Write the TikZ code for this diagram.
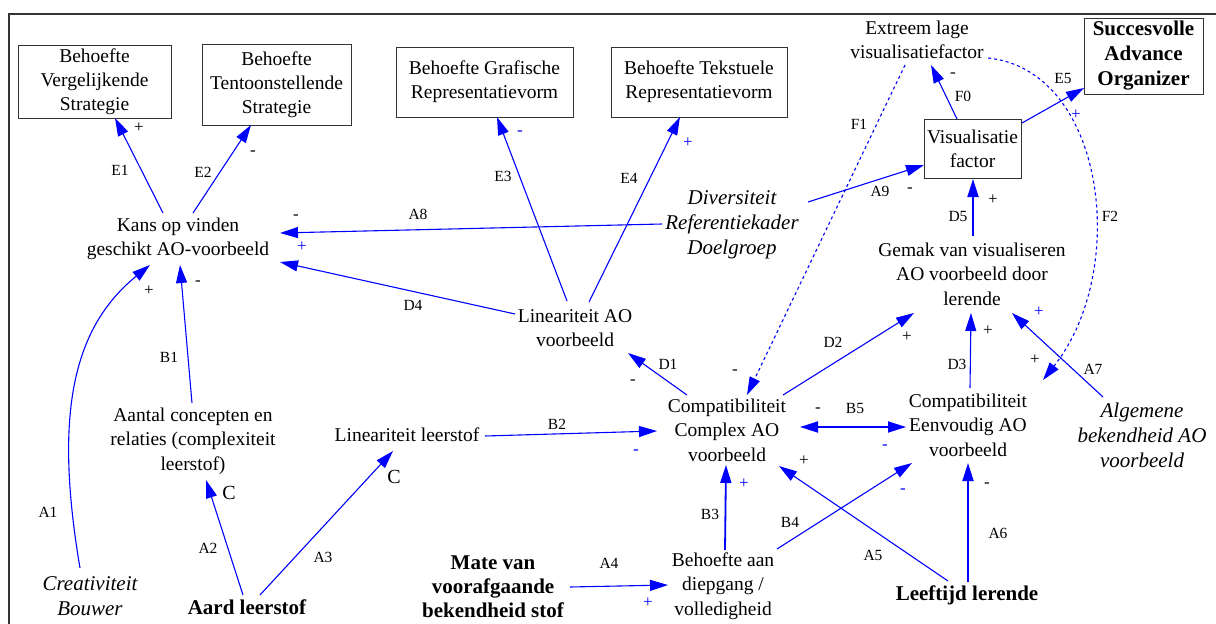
\documentclass[tikz,border=0pt]{standalone}
\usepackage{fontspec}
\setmainfont{Liberation Serif}
\usetikzlibrary{arrows.meta}
\begin{document}
\begin{tikzpicture}[x=1pt,y=-1pt,
  box/.style={draw=black!80, line width=1pt, align=center, inner sep=0pt, font=\fontsize{19.5}{24}\selectfont},
  txt/.style={align=center, inner sep=1pt, font=\fontsize{19.5}{24.5}\selectfont},
  itxt/.style={align=center, inner sep=1pt, font=\fontsize{21}{25}\selectfont\itshape},
  btxt/.style={align=center, inner sep=1pt, font=\fontsize{21}{24}\selectfont\bfseries},
  lbl/.style={inner sep=0pt, font=\fontsize{15.5}{18}\selectfont},
  sgn/.style={inner sep=0pt, font=\fontsize{17}{18}\selectfont},
  bsgn/.style={sgn, text=blue},
  csgn/.style={inner sep=0pt, font=\fontsize{20}{20}\selectfont},
  conn/.style={draw=blue, line width=1.1pt, -{Triangle[length=18pt,width=11pt]}},
  thickconn/.style={conn, line width=1.8pt},
  dconn/.style={conn, dash pattern=on 3pt off 3pt}
]
\useasboundingbox (0,0) rectangle (1216,624);
\fill[white] (0,0) rectangle (1216,624);
\draw[line width=2pt, black!80] (9,624) -- (9,14) -- (1216,14);

% boxes
\node[box, minimum width=153, minimum height=73] (v1) at (94.5,81.5) {Behoefte\\Vergelijkende\\Strategie};
\node[box, minimum width=149, minimum height=81] (v2) at (276.5,84.5) {Behoefte\\Tentoonstellende\\Strategie};
\node[box, minimum width=177, minimum height=70] (v3) at (484.5,82) {Behoefte Grafische\\Representatievorm};
\node[box, minimum width=176, minimum height=70] (v4) at (699,82) {Behoefte Tekstuele\\Representatievorm};
\node[box, minimum width=119, minimum height=76, font=\fontsize{21}{25}\selectfont\bfseries] (succ) at (1143.5,56) {Succesvolle\\Advance\\Organizer};
\node[box, minimum width=97, minimum height=59] (vis) at (972.5,148.5) {Visualisatie\\factor};

% text nodes
\node[txt] (ext) at (917,40) {Extreem lage\\visualisatiefactor};
\node[txt] (kans) at (178,239) {Kans op vinden\\geschikt AO-voorbeeld};
\node[itxt] (div) at (732,225) {Diversiteit\\Referentiekader\\Doelgroep};
\node[txt] (lao) at (575,328) {Lineariteit AO\\voorbeeld};
\node[txt] (gemak) at (972,274) {Gemak van visualiseren\\AO voorbeeld door\\lerende};
\node[txt] (cc) at (727,430) {Compatibiliteit\\Complex AO\\voorbeeld};
\node[txt] (ce) at (968,425) {Compatibiliteit\\Eenvoudig AO\\voorbeeld};
\node[itxt] (alg) at (1142,435) {Algemene\\bekendheid AO\\voorbeeld};
\node[txt] (aant) at (193,441) {Aantal concepten en\\relaties (complexiteit\\leerstof)};
\node[txt] (ll) at (407,435) {Lineariteit leerstof};
\node[itxt] (creat) at (90,596) {Creativiteit\\Bouwer};
\node[btxt] (aard) at (247,607) {Aard leerstof};
\node[btxt] (mate) at (493,587) {Mate van\\voorafgaande\\bekendheid stof};
\node[txt] (bdiep) at (723,586) {Behoefte aan\\diepgang /\\volledigheid};
\node[btxt] (leeft) at (967,595) {Leeftijd lerende};

% connectors
\draw[conn] ([shift={(-15,-26)}]kans.center) -- ([shift={(20.5,36.5)}]v1.center);
\draw[conn] ([shift={(15,-26)}]kans.center) -- ([shift={(-25.5,40.5)}]v2.center);
\draw[conn] ([shift={(-8,-27)}]lao.center) -- ([shift={(12.5,35)}]v3.center);
\draw[conn] ([shift={(14,-26)}]lao.center) -- ([shift={(-19,35)}]v4.center);
\draw[conn] ([shift={(-70,-1)}]div.center) -- ([shift={(102,-6)}]kans.center);
\draw[conn] ([shift={(-60,-14)}]lao.center) -- ([shift={(102,23)}]kans.center);
\draw[conn] ([shift={(76,-23)}]div.center) -- ([shift={(-48.5,16.5)}]vis.center);
\draw[conn] ([shift={(49.5,-25.5)}]vis.center) -- ([shift={(-59.5,32)}]succ.center);
\draw[conn] ([shift={(-15.5,-29.5)}]vis.center) -- ([shift={(14,25)}]ext.center);
\draw[thickconn] ([shift={(1,-38)}]gemak.center) -- ([shift={(0.5,30.5)}]vis.center);
\draw[dconn] ([shift={(-12,25)}]ext.center) -- ([shift={(20,-35)}]cc.center);
\draw[dconn] ([shift={(71,18)}]ext.center) .. controls (1105,70) and (1130,270) .. ([shift={(75,-45)}]ce.center);
\draw[conn] ([shift={(-40,-35)}]cc.center) -- ([shift={(53,25)}]lao.center);
\draw[conn] ([shift={(56,-35)}]cc.center) -- ([shift={(-58,39)}]gemak.center);
\draw[conn] ([shift={(2,-37)}]ce.center) -- ([shift={(-1,39)}]gemak.center);
\draw[conn] ([shift={(-39,-38)}]alg.center) -- ([shift={(40,39)}]gemak.center);
\draw[thickconn, {Triangle[length=18pt,width=11pt]}-{Triangle[length=18pt,width=11pt]}] ([shift={(73,-3)}]cc.center) -- ([shift={(-62,2)}]ce.center);
\draw[conn] ([shift={(78,1)}]ll.center) -- ([shift={(-70,1)}]cc.center);
\draw[thickconn] ([shift={(2,-36)}]bdiep.center) -- ([shift={(-1,35)}]cc.center);
\draw[conn] ([shift={(54,-37)}]bdiep.center) -- ([shift={(-56,38)}]ce.center);
\draw[conn] ([shift={(-19,-14)}]leeft.center) -- ([shift={(52,36)}]cc.center);
\draw[thickconn] ([shift={(1,-13)}]leeft.center) -- ([shift={(0,38)}]ce.center);
\draw[conn] ([shift={(77,0)}]mate.center) -- ([shift={(-55,-1)}]bdiep.center);
\draw[conn] ([shift={(13,-12)}]aard.center) -- ([shift={(-14,16)}]ll.center);
\draw[conn] ([shift={(-4,-12)}]aard.center) -- ([shift={(13,39)}]aant.center);
\draw[conn] ([shift={(-1,-38)}]aant.center) -- ([shift={(2,26)}]kans.center);
\draw[conn] ([shift={(-10,-28)}]creat.center) .. controls (55,420) and (70,330) .. ([shift={(-28,26)}]kans.center);

% labels
\node[lbl] (lE1) at (120,170) {E1};
\node[lbl] (lE2) at (203,172) {E2};
\node[lbl] (lE3) at (503,176) {E3};
\node[lbl] (lE4) at (629,178) {E4};
\node[lbl] (lA8) at (418,214) {A8};
\node[lbl] (lD4) at (413,305) {D4};
\node[lbl] (lA9) at (880,191) {A9};
\node[lbl] (lE5) at (1063,78) {E5};
\node[lbl] (lF0) at (963,96) {F0};
\node[lbl] (lD5) at (958,216) {D5};
\node[lbl] (lF1) at (859,124) {F1};
\node[lbl] (lF2) at (1110,216) {F2};
\node[lbl] (lD1) at (668,364) {D1};
\node[lbl] (lD2) at (833,342) {D2};
\node[lbl] (lD3) at (957,364) {D3};
\node[lbl] (lA7) at (1093,369) {A7};
\node[lbl] (lB5) at (855,408) {B5};
\node[lbl] (lB2) at (557,424) {B2};
\node[lbl] (lB3) at (710,514) {B3};
\node[lbl] (lB4) at (790,522) {B4};
\node[lbl] (lA5) at (873,555) {A5};
\node[lbl] (lA6) at (998,533) {A6};
\node[lbl] (lA4) at (609,563) {A4};
\node[lbl] (lA3) at (323,557) {A3};
\node[lbl] (lA2) at (208,548) {A2};
\node[lbl] (lB1) at (169,357) {B1};
\node[lbl] (lA1) at (48,512) {A1};

% signs
\node[sgn] (s1) at (139,128) {+};
\node[sgn] (s2) at (253,153) {-};
\node[bsgn] (s3) at (520,133) {-};
\node[bsgn] (s4) at (688,143) {+};
\node[sgn] (s5) at (296,217) {-};
\node[bsgn] (s6) at (302,247) {+};
\node[sgn] (s7) at (149,291) {+};
\node[sgn] (s8) at (198,283) {-};
\node[sgn] (s9) at (910,190) {-};
\node[sgn] (s10) at (953,75) {-};
\node[bsgn] (s11) at (1076,115) {+};
\node[sgn] (s12) at (993,200) {+};
\node[sgn] (s13) at (633,382) {-};
\node[sgn] (s14) at (735,372) {-};
\node[sgn] (s15) at (907,337) {+};
\node[sgn] (s16) at (988,331) {+};
\node[bsgn] (s17) at (1039,312) {+};
\node[sgn] (s18) at (1035,360) {+};
\node[sgn] (s19) at (818,410) {-};
\node[bsgn] (s20) at (885,447) {-};
\node[bsgn] (s21) at (636,452) {-};
\node[bsgn] (s22) at (744,484) {+};
\node[bsgn] (s23) at (903,491) {-};
\node[sgn] (s24) at (804,461) {+};
\node[sgn] (s25) at (987,485) {-};
\node[bsgn] (s26) at (648,603) {+};
\node[csgn] (c1) at (229,493) {C};
\node[csgn] (c2) at (394,477) {C};
\end{tikzpicture}
\end{document}
